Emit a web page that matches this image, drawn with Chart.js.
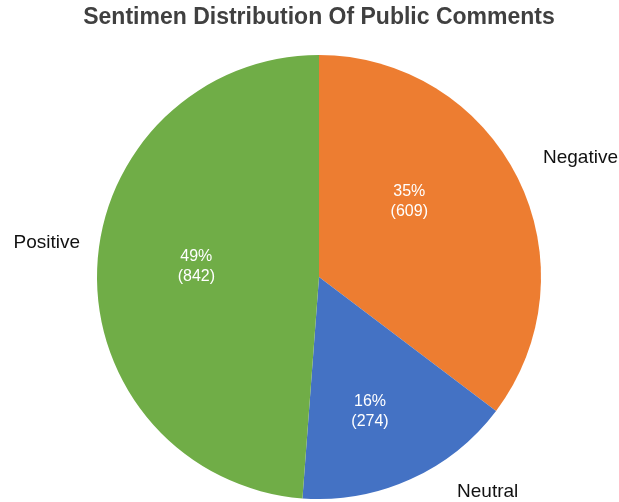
<!DOCTYPE html>
<html>
<head>
<meta charset="utf-8">
<script src="https://cdn.jsdelivr.net/npm/chart.js@4"></script>
<style>
  html, body { margin: 0; padding: 0; background: #ffffff; }
  #wrap { width: 619px; height: 502px; position: relative; }
</style>
</head>
<body>
<div id="wrap"><canvas id="c" width="619" height="502"></canvas></div>
<script>
const categories = ["Negative", "Neutral", "Positive"];
const counts = [609, 274, 842];
const sliceColors = ["#ED7D31", "#4472C4", "#70AD47"];
const chartTitle = "Sentimen Distribution Of Public Comments";

// label placement tweaks (style only)
const innerOffsets = [[-25, -18], [-2, 17], [6, -6]];
const outerOffsets = [[23, -1], [59, -28], [-6, -24]];

const labelPlugin = {
  id: 'sliceLabels',
  afterDatasetsDraw(chart) {
    const ctx = chart.ctx;
    const meta = chart.getDatasetMeta(0);
    const data = chart.data.datasets[0].data;
    const total = data.reduce((a, b) => a + b, 0);
    ctx.save();
    meta.data.forEach((arc, i) => {
      const p = arc.getProps(['x', 'y', 'startAngle', 'endAngle', 'outerRadius'], true);
      const mid = (p.startAngle + p.endAngle) / 2;
      const r = p.outerRadius;
      // inner labels
      const ix = p.x + Math.cos(mid) * r * 0.58 + innerOffsets[i][0];
      const iy = p.y + Math.sin(mid) * r * 0.58 + innerOffsets[i][1];
      ctx.fillStyle = '#ffffff';
      ctx.font = '16px "Liberation Sans", Arial, sans-serif';
      ctx.textAlign = 'center';
      ctx.textBaseline = 'middle';
      const pct = Math.round(data[i] / total * 100) + '%';
      ctx.fillText(pct, ix, iy - 10);
      ctx.fillText('(' + data[i] + ')', ix, iy + 10);
      // outer labels
      const ox = p.x + Math.cos(mid) * r * 1.2 + outerOffsets[i][0];
      const oy = p.y + Math.sin(mid) * r * 1.2 + outerOffsets[i][1];
      ctx.fillStyle = '#111111';
      ctx.font = '19px "Liberation Sans", Arial, sans-serif';
      ctx.fillText(chart.data.labels[i], ox, oy);
    });
    ctx.restore();
  }
};

new Chart(document.getElementById('c'), {
  type: 'pie',
  data: {
    labels: categories,
    datasets: [{
      data: counts,
      backgroundColor: sliceColors,
      borderWidth: 0,
      hoverOffset: 0
    }]
  },
  options: {
    responsive: false,
    animation: false,
    devicePixelRatio: 1,
    layout: { padding: { top: 0, bottom: 3, left: 19, right: 0 } },
    plugins: {
      legend: { display: false },
      tooltip: { enabled: false },
      title: {
        display: true,
        text: chartTitle,
        color: '#404040',
        font: { family: '"Liberation Sans", Arial, sans-serif', size: 23, weight: 'bold', lineHeight: 1.2 },
        padding: { top: 4, bottom: 23.4 }
      }
    }
  },
  plugins: [labelPlugin]
});
</script>
</body>
</html>
